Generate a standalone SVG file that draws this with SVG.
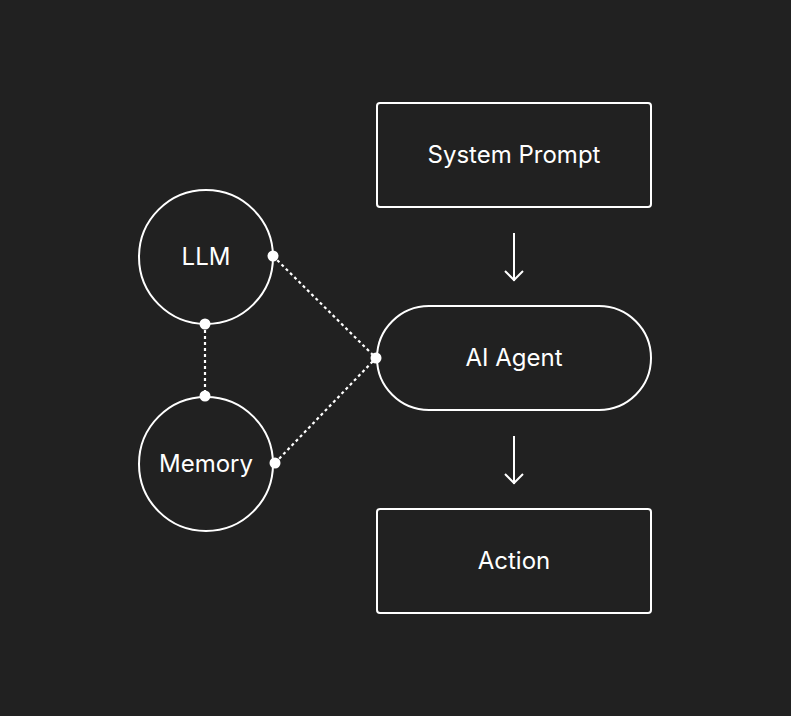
<svg xmlns="http://www.w3.org/2000/svg" width="791" height="716" viewBox="0 0 791 716">
<defs>
<style>
.box{fill:none;stroke:#fff;stroke-width:2}
.lbl{fill:#fff;font-family:Inter,"Noto Sans",sans-serif;font-size:24px;font-weight:400;text-anchor:middle;dominant-baseline:central}
.dash{fill:none;stroke:#fff;stroke-width:2.2;stroke-dasharray:3 3}
.arrow{fill:none;stroke:#fff;stroke-width:2}
.dot{fill:#fff}
</style>
</defs>
<rect width="791" height="716" fill="#212121"/>
<g id="connectors">
<line class="dash" x1="273" y1="256" x2="376" y2="358"/>
<line class="dash" x1="275" y1="463" x2="376" y2="358"/>
<line class="dash" x1="205" y1="324" x2="205" y2="396"/>
<path class="arrow" d="M514 233V281M505 271L514 280L523 271"/>
<path class="arrow" d="M514 436V484M505 474L514 483L523 474"/>
</g>
<g id="system-prompt">
<rect class="box" x="377" y="103" width="274" height="104" rx="3"/>
<text class="lbl" x="514" y="154.5">System Prompt</text>
</g>
<g id="ai-agent">
<rect class="box" x="377" y="306" width="274" height="104" rx="52"/>
<text class="lbl" x="514" y="357.5">AI Agent</text>
</g>
<g id="action">
<rect class="box" x="377" y="509" width="274" height="104" rx="3"/>
<text class="lbl" x="514" y="560.5">Action</text>
</g>
<g id="llm">
<circle class="box" cx="206" cy="257" r="67"/>
<text class="lbl" x="206" y="256.5">LLM</text>
</g>
<g id="memory">
<circle class="box" cx="206" cy="464" r="67"/>
<text class="lbl" x="206" y="463.5">Memory</text>
</g>
<g id="ports">
<circle class="dot" cx="273" cy="256" r="5.5"/>
<circle class="dot" cx="205" cy="324" r="5.5"/>
<circle class="dot" cx="205" cy="396" r="5.5"/>
<circle class="dot" cx="275" cy="463" r="5.5"/>
<circle class="dot" cx="376" cy="358" r="5.5"/>
</g>
</svg>
